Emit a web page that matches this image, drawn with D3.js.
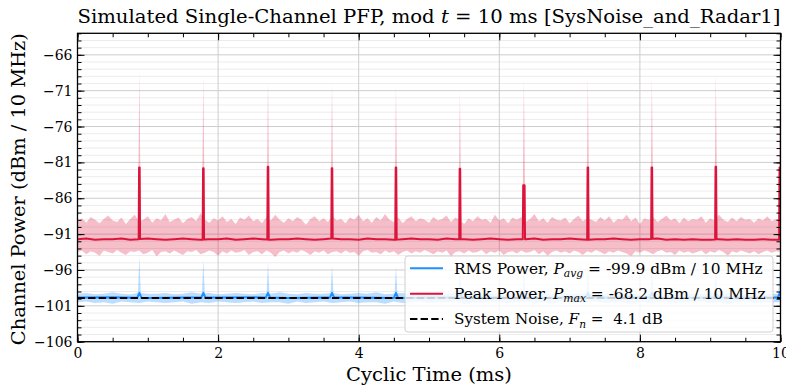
<!DOCTYPE html>
<html><head><meta charset="utf-8">
<script src="https://cdn.jsdelivr.net/npm/d3@7"></script>
<style>
body{margin:0;background:#fff;}
svg text{font-family:'DejaVu Serif',serif;fill:#000;white-space:pre;}
</style></head><body>
<svg id="c" width="786" height="387"></svg>
<script>
// ---------------- data ----------------
const xTicks = [0, 2, 4, 6, 8, 10];
const yTicks = [-106, -101, -96, -91, -86, -81, -76, -71, -66];
const xDomain = [0, 10];
const yDomain = [-106, -63];

// radar pulse (spike) times and levels
const spikeT     = [0.88, 1.79, 2.71, 3.62, 4.53, 5.44, 6.35, 7.26, 8.17, 9.08, 9.99];
const spikePeak  = [-81.7, -81.8, -81.6, -81.8, -81.7, -81.9, -84.2, -81.7, -81.7, -81.6, -81.7];
const spikeWidth = [0.004, 0.004, 0.004, 0.004, 0.004, 0.004, 0.01, 0.004, 0.004, 0.004, 0.004];
const spikeMax   = [-68.2, -69.0, -69.4, -69.8, -70.2, -71.1, -69.4, -69.1, -69.1, -68.5, -72.0];
const rmsSpikeMax = [-94.1, -94.6, -95.0, -95.4, -95.6, -95.6, -95.0, -95.3, -95.3, -95.0, -95.0];
const rmsBump     = [-99.2, -99.2, -99.2, -99.2, -99.2, -99.2, -99.4, -99.2, -99.2, -99.2, -99.2];

// peak-power envelope (max / min), 161 samples over 0..10 ms
const peakTop = [
-89.2,-88.8,-89.4,-88.6,-89.0,-89.5,-88.9,-88.4,-89.1,-89.3,
-88.7,-89.6,-88.9,-88.3,-89.2,-89.0,-88.5,-89.4,-88.8,-89.1,
-88.2,-89.3,-89.0,-88.7,-89.5,-88.9,-88.6,-89.2,-88.1,-89.0,
-89.4,-88.8,-89.1,-88.5,-89.3,-88.9,-89.6,-88.7,-89.0,-88.4,
-89.2,-88.9,-89.5,-88.6,-89.1,-88.3,-89.0,-89.4,-88.8,-89.2,
-88.6,-89.0,-89.7,-88.9,-88.5,-89.2,-88.8,-89.3,-88.4,-89.1,
-88.9,-89.5,-88.7,-89.0,-88.3,-89.2,-88.8,-89.4,-88.6,-89.1,
-88.2,-89.0,-89.3,-88.7,-89.5,-88.9,-88.5,-89.2,-88.8,-89.0,
-89.4,-88.6,-89.1,-88.9,-88.4,-89.3,-88.7,-89.0,-89.6,-88.8,
-89.2,-88.5,-89.0,-88.9,-89.4,-88.3,-89.1,-88.8,-89.5,-88.7,
-89.0,-88.6,-89.3,-88.9,-88.2,-89.2,-88.8,-89.4,-88.6,-89.0,
-89.1,-88.7,-89.5,-88.9,-88.4,-89.2,-88.8,-89.0,-89.3,-88.6,
-89.1,-88.5,-89.4,-88.9,-89.0,-88.3,-89.2,-88.7,-89.6,-88.8,
-89.0,-88.6,-89.3,-88.9,-88.4,-89.1,-88.8,-89.5,-88.7,-89.2,
-88.9,-89.0,-88.5,-89.4,-88.8,-89.1,-88.3,-89.0,-89.3,-88.7,
-89.2,-88.6,-89.0,-88.9,-89.4,-88.8,-89.1,-88.5,-89.2,-88.9,
-89.0];
const peakBot = [
-93.5,-93.3,-93.8,-93.4,-93.6,-94.0,-93.3,-93.5,-93.7,-93.2,
-93.6,-93.9,-93.4,-93.5,-93.3,-93.8,-93.6,-93.2,-94.1,-93.5,
-93.4,-93.7,-93.3,-93.6,-93.9,-93.4,-93.5,-93.2,-93.8,-93.6,
-93.3,-93.5,-94.0,-93.4,-93.7,-93.3,-93.6,-93.5,-93.2,-93.9,
-93.5,-93.4,-93.8,-93.3,-93.6,-94.2,-93.5,-93.3,-93.7,-93.4,
-93.6,-93.2,-93.5,-93.9,-93.4,-93.6,-93.3,-93.8,-93.5,-93.4,
-93.7,-93.3,-93.6,-93.5,-94.0,-93.4,-93.2,-93.6,-93.5,-93.8,
-93.3,-93.6,-93.4,-93.9,-93.5,-93.3,-93.7,-93.4,-93.6,-93.2,
-93.5,-93.8,-93.4,-93.6,-93.3,-94.1,-93.5,-93.4,-93.7,-93.3,
-93.6,-93.5,-93.2,-93.8,-93.4,-93.6,-93.3,-93.9,-93.5,-93.4,
-93.7,-93.3,-93.6,-93.5,-93.2,-93.8,-93.4,-94.0,-93.5,-93.3,
-93.6,-93.4,-93.7,-93.3,-93.5,-93.9,-93.4,-93.6,-93.2,-93.5,
-93.8,-93.4,-93.6,-93.3,-93.5,-93.7,-94.1,-93.4,-93.6,-93.3,
-93.5,-93.8,-93.4,-93.2,-93.6,-93.5,-93.9,-93.3,-93.6,-93.4,
-93.7,-93.5,-93.3,-93.8,-93.4,-93.6,-93.2,-93.5,-94.0,-93.4,
-93.6,-93.3,-93.5,-93.7,-93.4,-93.8,-93.5,-93.3,-93.6,-93.4,
-93.5];
// peak-power median trace, 81 samples over 0..10 ms
const peakLine = [
-91.7,-91.6,-91.8,-91.7,-91.7,-91.6,-91.8,-91.7,-91.6,-91.7,
-91.8,-91.7,-91.6,-91.7,-91.8,-91.7,-91.7,-91.6,-91.8,-91.7,
-91.6,-91.7,-91.8,-91.7,-91.7,-91.6,-91.7,-91.8,-91.7,-91.6,
-91.7,-91.7,-91.8,-91.6,-91.7,-91.7,-91.8,-91.7,-91.6,-91.7,
-91.7,-91.8,-91.6,-91.7,-91.7,-91.8,-91.7,-91.6,-91.7,-91.8,
-91.7,-91.7,-91.6,-91.8,-91.7,-91.7,-91.6,-91.7,-91.8,-91.7,
-91.7,-91.6,-91.7,-91.8,-91.7,-91.7,-91.6,-91.8,-91.7,-91.8,
-91.7,-91.8,-91.8,-91.7,-91.8,-91.7,-91.8,-91.8,-91.7,-91.8,
-91.8];
// RMS envelope and trace, 81 samples over 0..10 ms
const rmsTop = [
-99.3,-99.2,-99.4,-99.3,-99.1,-99.3,-99.4,-99.2,-99.3,-99.3,
-99.2,-99.4,-99.3,-99.1,-99.3,-99.2,-99.4,-99.3,-99.2,-99.3,
-99.4,-99.2,-99.3,-99.1,-99.3,-99.4,-99.2,-99.3,-99.3,-99.2,
-99.4,-99.3,-99.2,-99.3,-99.1,-99.4,-99.3,-99.2,-99.3,-99.4,
-99.2,-99.3,-99.3,-99.1,-99.4,-99.2,-99.3,-99.3,-99.2,-99.4,
-99.3,-99.2,-99.1,-99.3,-99.4,-99.2,-99.3,-99.3,-99.2,-99.4,
-99.3,-99.1,-99.3,-99.2,-99.4,-99.3,-99.2,-99.3,-99.4,-99.2,
-99.3,-99.3,-99.1,-99.4,-99.2,-99.3,-99.3,-99.2,-99.4,-99.3,
-99.3];
const rmsBot = [
-100.5,-100.4,-100.6,-100.5,-100.7,-100.4,-100.5,-100.6,-100.4,-100.5,
-100.6,-100.5,-100.4,-100.7,-100.5,-100.6,-100.4,-100.5,-100.6,-100.5,
-100.4,-100.6,-100.5,-100.5,-100.7,-100.4,-100.6,-100.5,-100.4,-100.6,
-100.5,-100.4,-100.6,-100.5,-100.5,-100.7,-100.4,-100.6,-100.5,-100.4,
-100.6,-100.5,-100.5,-100.4,-100.7,-100.5,-100.6,-100.4,-100.5,-100.6,
-100.5,-100.4,-100.6,-100.5,-100.7,-100.4,-100.5,-100.6,-100.5,-100.4,
-100.6,-100.5,-100.5,-100.7,-100.4,-100.6,-100.5,-100.4,-100.6,-100.5,
-100.5,-100.4,-100.6,-100.5,-100.7,-100.5,-100.4,-100.6,-100.5,-100.5,
-100.5];
const rmsLine = [
-99.85,-99.8,-99.9,-99.85,-99.85,-99.8,-99.9,-99.85,-99.85,-99.9,
-99.85,-99.8,-99.85,-99.9,-99.85,-99.85,-99.8,-99.9,-99.85,-99.85,
-99.85];
const sysNoise = -99.9;

const legendItems = [
  {pre: "RMS Power, ", sym: "P", sub: "avg", post: " = -99.9 dBm / 10 MHz", kind: "rms"},
  {pre: "Peak Power, ", sym: "P", sub: "max", post: " = -68.2 dBm / 10 MHz", kind: "peak"},
  {pre: "System Noise, ", sym: "F", sub: "n", post: " =  4.1 dB", kind: "noise"}
];

// ---------------- chart ----------------
const C = {red: "#DC143C", blue: "#1E90FF"};
const svg = d3.select("#c");
const L = 77.5, R = 780.5, T = 33.3, B = 341.7;
const x = d3.scaleLinear(xDomain, [L, R]);
const y = d3.scaleLinear(yDomain, [B, T]);

const tAxis = (n) => d3.range(n).map(i => xDomain[0] + i * (xDomain[1] - xDomain[0]) / (n - 1));

function withSpikes(vals, spikes) {
  const ts = tAxis(vals.length);
  const f = d3.scaleLinear(ts, vals);
  let pts = ts.map((t, i) => [t, vals[i]]);
  spikes.forEach(s => {
    const a = s.t - s.hw - s.ramp, b = s.t + s.hw + s.ramp;
    pts = pts.filter(p => p[0] < a || p[0] > b);
    pts.push([a, f(Math.max(a, 0))], [s.t - s.hw, s.v], [s.t + s.hw, s.v], [b, f(Math.min(b, 10))]);
  });
  return pts.sort((p, q) => p[0] - q[0]);
}

svg.append("defs").append("clipPath").attr("id", "clip")
  .append("rect").attr("x", L).attr("y", T).attr("width", R - L).attr("height", B - T);

// grid
const grid = svg.append("g");
d3.range(-105, -63).filter(v => !yTicks.includes(v)).forEach(v => {
  grid.append("line").attr("x1", L).attr("x2", R).attr("y1", y(v)).attr("y2", y(v))
    .attr("stroke", "#ececec").attr("stroke-width", 1);
});
yTicks.forEach(v => {
  grid.append("line").attr("x1", L).attr("x2", R).attr("y1", y(v)).attr("y2", y(v))
    .attr("stroke", "#cdcdcd").attr("stroke-width", 1);
});
xTicks.forEach(v => {
  grid.append("line").attr("y1", T).attr("y2", B).attr("x1", x(v)).attr("x2", x(v))
    .attr("stroke", "#cdcdcd").attr("stroke-width", 1);
});

const data = svg.append("g").attr("clip-path", "url(#clip)");
const line = d3.line().x(p => x(p[0])).y(p => y(p[1]));
const poly = (top, bot) => line(top.concat(bot.slice().reverse())) + "Z";

// peak envelope
const pTop = withSpikes(peakTop, spikeT.map((t, i) => ({t, v: spikeMax[i], hw: 0, ramp: 0.02})));
const pBot = tAxis(peakBot.length).map((t, i) => [t, peakBot[i]]);
data.append("path").attr("d", poly(pTop, pBot)).attr("fill", C.red).attr("fill-opacity", 0.28);

// rms envelope
const rTop = withSpikes(rmsTop, spikeT.map((t, i) => ({t, v: rmsSpikeMax[i], hw: 0, ramp: 0.02})));
const rBot = tAxis(rmsBot.length).map((t, i) => [t, rmsBot[i]]);
data.append("path").attr("d", poly(rTop, rBot)).attr("fill", C.blue).attr("fill-opacity", 0.3);

// peak line
const pLine = withSpikes(peakLine, spikeT.map((t, i) => ({t, v: spikePeak[i], hw: spikeWidth[i], ramp: 0.006})));
data.append("path").attr("d", line(pLine)).attr("fill", "none").attr("stroke", C.red)
  .attr("stroke-width", 2).attr("stroke-linejoin", "round");

// rms line
const rLine = withSpikes(rmsLine, spikeT.map((t, i) => ({t, v: rmsBump[i], hw: 0, ramp: 0.03})));
data.append("path").attr("d", line(rLine)).attr("fill", "none").attr("stroke", C.blue)
  .attr("stroke-width", 2).attr("stroke-linejoin", "round");

// system noise
data.append("path").attr("d", line([[xDomain[0], sysNoise], [xDomain[1], sysNoise]]))
  .attr("stroke", "#000").attr("stroke-width", 2).attr("stroke-dasharray", "7.4,3.2");

// axes
const fmt = d3.format("d");
function styleAxis(g) { g.select(".domain").remove(); g.selectAll("line").attr("stroke", "#000").attr("stroke-width", 1); g.selectAll("text").attr("font-family", "DejaVu Serif").attr("font-size", 14); }
const minorY = d3.range(-106, -62);
const minorX = d3.range(0, 10.01, 0.5);
svg.append("g").attr("transform", `translate(${L},0)`).call(d3.axisLeft(y).tickValues(yTicks).tickFormat(fmt).tickSize(-7).tickPadding(5)).call(styleAxis);
svg.append("g").attr("transform", `translate(${L},0)`).call(d3.axisLeft(y).tickValues(minorY).tickFormat("").tickSize(-4)).call(styleAxis);
svg.append("g").attr("transform", `translate(${R},0)`).call(d3.axisRight(y).tickValues(yTicks).tickFormat("").tickSize(-7)).call(styleAxis);
svg.append("g").attr("transform", `translate(${R},0)`).call(d3.axisRight(y).tickValues(minorY).tickFormat("").tickSize(-4)).call(styleAxis);
svg.append("g").attr("transform", `translate(0,${B})`).call(d3.axisBottom(x).tickValues(xTicks).tickFormat(fmt).tickSize(-7).tickPadding(6)).call(styleAxis);
svg.append("g").attr("transform", `translate(0,${B})`).call(d3.axisBottom(x).tickValues(minorX).tickFormat("").tickSize(-4)).call(styleAxis);
svg.append("g").attr("transform", `translate(0,${T})`).call(d3.axisTop(x).tickValues(xTicks).tickFormat("").tickSize(-7)).call(styleAxis);
svg.append("g").attr("transform", `translate(0,${T})`).call(d3.axisTop(x).tickValues(minorX).tickFormat("").tickSize(-4)).call(styleAxis);

// legend
const lg = svg.append("g");
lg.append("rect").attr("x", 405).attr("y", 256).attr("width", 368).attr("height", 76).attr("rx", 3)
  .attr("fill", "#fff").attr("fill-opacity", 0.8).attr("stroke", "#d0d0d0").attr("stroke-width", 1);
const legTargets = [309, 312, 209];
legendItems.forEach((it, i) => {
  const cy = 268.3 + i * 25.4;
  const ln = lg.append("line").attr("x1", 410).attr("x2", 443).attr("y1", cy).attr("y2", cy).attr("stroke-width", 2);
  if (it.kind === "rms") ln.attr("stroke", C.blue);
  else if (it.kind === "peak") ln.attr("stroke", C.red);
  else ln.attr("stroke", "#000").attr("stroke-dasharray", "7.4,3.2");
  const t = lg.append("text").attr("x", 454).attr("y", cy + 5.3).attr("font-size", 15);
  t.append("tspan").text(it.pre);
  t.append("tspan").attr("font-style", "italic").text(it.sym);
  t.append("tspan").attr("font-style", "italic").attr("font-size", 10.5).attr("dy", 3.2).text(it.sub);
  t.append("tspan").attr("dy", -3.2).text(it.post);
  const w = t.node().getBBox().width;
  const s = legTargets[i] / w;
  t.attr("transform", `translate(454,0) scale(${s},1) translate(-454,0)`);
});

// frame
svg.append("rect").attr("x", L).attr("y", T).attr("width", R - L).attr("height", B - T)
  .attr("fill", "none").attr("stroke", "#000").attr("stroke-width", 1.3);

// titles
svg.append("text").attr("x", (L + R) / 2).attr("y", 22.5).attr("text-anchor", "middle").attr("font-size", 18.5)
  .attr("textLength", 703).attr("lengthAdjust", "spacingAndGlyphs")
  .call(t => { t.append("tspan").text("Simulated Single-Channel PFP, mod "); t.append("tspan").attr("font-style", "italic").text("t"); t.append("tspan").text(" = 10 ms [SysNoise_and_Radar1]"); });
svg.append("text").attr("x", (L + R) / 2).attr("y", 380.5).attr("text-anchor", "middle").attr("font-size", 19)
  .attr("textLength", 166).attr("lengthAdjust", "spacingAndGlyphs").text("Cyclic Time (ms)");
svg.append("text").attr("transform", `translate(24.5,${(T + 345) / 2}) rotate(-90)`).attr("text-anchor", "middle").attr("font-size", 19)
  .attr("textLength", 312).attr("lengthAdjust", "spacingAndGlyphs").text("Channel Power (dBm / 10 MHz)");
</script>
</body></html>
